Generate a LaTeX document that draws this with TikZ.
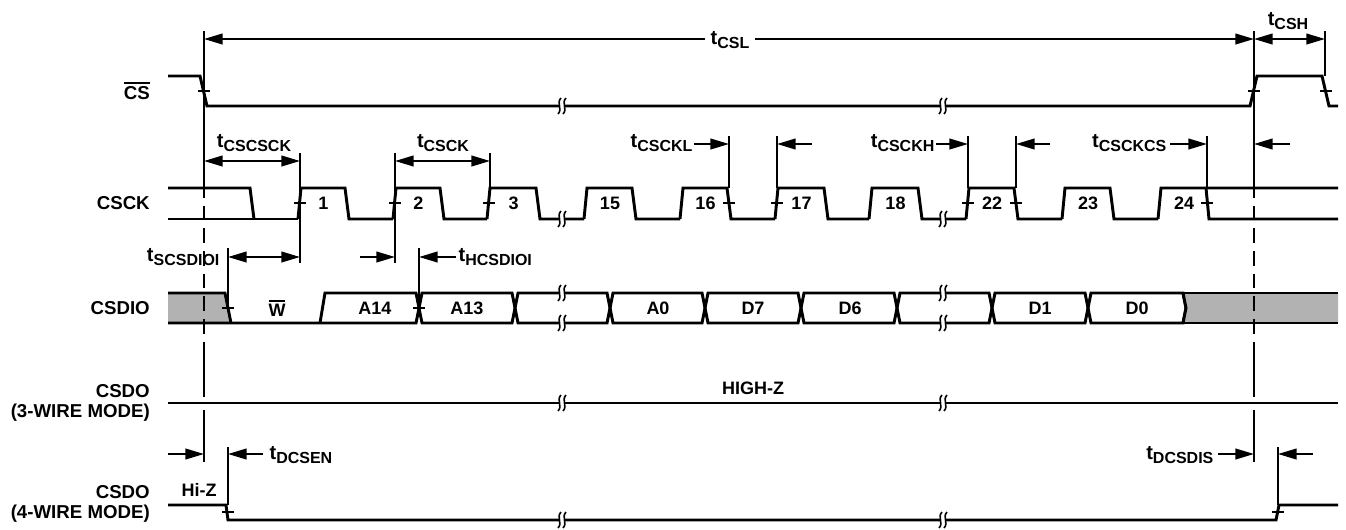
\documentclass[tikz,border=0pt]{standalone}
\usepackage{fontspec}
\setmainfont{Liberation Sans}
\usetikzlibrary{arrows.meta}

% timing symbol: big t with lowered subscript
\newcommand\tm[1]{{\fontsize{15}{15}\selectfont t}\raisebox{-0.5ex}{\fontsize{12}{12}\selectfont #1}}
% text with a heavy bar over it
\newcommand\ovl[1]{\setbox0\hbox{#1}\rlap{\rule[\dimexpr\ht0+1.6pt\relax]{\wd0}{1.4pt}}\box0}
% small crossing mark on an edge
\newcommand\tck[2]{\draw[tickline] (#1-6,#2) -- (#1+6,#2);}
% break mark on a signal line
\newcommand\brk[2]{%
  \fill[white] (#1-3,#2-2.5) rectangle (#1+3,#2+2.5);
  \draw[brkline] (#1-1,#2-8) .. controls (#1-6,#2-3) and (#1+1,#2+3) .. (#1-4,#2+8);
  \draw[brkline] (#1+4,#2-8) .. controls (#1-1,#2-3) and (#1+6,#2+3) .. (#1+1,#2+8);}

\begin{document}
\begin{tikzpicture}[x=0.75pt,y=0.75pt,yscale=-1,xscale=1,
  sig/.style={line width=2.2pt},
  vline/.style={line width=1.1pt},
  vdash/.style={line width=1.1pt, dash pattern=on 11pt off 6pt},
  dim/.style={line width=1.5pt, -{Triangle[length=14pt,width=8pt]}},
  dimboth/.style={line width=1.5pt, {Triangle[length=14pt,width=8pt]}-{Triangle[length=14pt,width=8pt]}},
  tickline/.style={line width=1pt},
  brkline/.style={line width=1.2pt},
  sname/.style={font=\fontsize{14}{14.5}\selectfont\bfseries, inner sep=0pt, align=right, anchor=east},
  tlab/.style={font=\bfseries, inner sep=1pt},
  blab/.style={font=\fontsize{13.5}{14}\selectfont\bfseries, inner sep=0pt}]

\useasboundingbox (0,0) rectangle (1346,529);

% Signal names
\node[sname] (cs) at (150,91) {\ovl{CS}};
\node[sname] (csck) at (150,203) {CSCK};
\node[sname] (csdio) at (150,308) {CSDIO};
\node[sname] (csdo3) at (150,403) {CSDO\\(3-WIRE MODE)};
\node[sname] (csdo4) at (150,504) {CSDO\\(4-WIRE MODE)};

%CS
\draw[sig] (168,76) -- (200,76) -- (207,106) -- (1250,106) -- (1257,76) -- (1322,76) -- (1329,106) -- (1338,106);
\brk{562}{106} \brk{943}{106}
\tck{204}{91} \tck{1254}{91} \tck{1326}{91}

%CSCK
\draw[sig] (168,188) -- (250,188) -- (254,219);
\draw[sig] (168,219) -- (298,219);
\foreach \r/\f/\nx/\n in {298/345/393/1, 393/440/487/2, 487/536/584/3, 584/632/680/15, 680/727/775/16,
    775/824/869/17, 869/918/966/18, 966/1014/1062/22, 1062/1110/1158/23}{
  \draw[sig] (\r,219) -- (\r+3,188) -- (\f,188) -- (\f+4,219) -- (\nx,219);
  \node[blab] (ck\n) at ({(\r+\f)/2+2},203) {\n};
}
\draw[sig] (1158,219) -- (1161,188) -- (1338,188);
\draw[sig] (1206,188) -- (1209,219) -- (1338,219);
\node[blab] (ck24) at (1184,203) {24};
\brk{562}{219} \brk{943}{219}
\foreach \x in {300,395,489,729,777,968,1016,1207} {\tck{\x}{203}}

%CSDIO
\fill[gray!60] (168,293) -- (225,293) -- (231,323) -- (168,323) -- cycle;
\draw[sig] (168,293) -- (225,293) -- (231,323);
\draw[sig] (168,323) -- (416,323) -- (419,308);
\draw[sig] (320,323) -- (325,293) -- (416,293) -- (419,308);
\foreach \a/\b in {419/515, 515/610, 610/705, 705/801, 801/897, 897/992, 992/1088, 1088/1186}
  \draw[sig] (\a,308) -- (\a+3,293) -- (\b-3,293) -- (\b,308) -- (\b-3,323) -- (\a+3,323) -- cycle;
\fill[gray!60] (1183,293) -- (1186,308) -- (1183,323) -- (1338,323) -- (1338,293) -- cycle;
\draw[sig] (1183,293) -- (1338,293) (1183,323) -- (1338,323);
\draw[sig] (1183,293) -- (1186,308) -- (1183,323);
\brk{562}{293} \brk{562}{323} \brk{943}{293} \brk{943}{323}
\tck{228}{308} \tck{419}{308}
\node[blab] (wbit) at (277,308) {\ovl{W}};
\node[blab] (a14) at (375,308) {A14};
\node[blab] (a13) at (467,308) {A13};
\node[blab] (a0) at (658,308) {A0};
\node[blab] (d7) at (753,308) {D7};
\node[blab] (d6) at (850,308) {D6};
\node[blab] (d1) at (1040,308) {D1};
\node[blab] (d0) at (1137,308) {D0};

%CSDO 3-wire
\draw[sig] (168,403) -- (1338,403);
\brk{562}{403} \brk{943}{403}
\node[blab] (highz) at (753,388) {HIGH-Z};

%CSDO 4-wire
\draw[sig] (168,505) -- (226,505) -- (228,520) -- (1276,520) -- (1279,505) -- (1338,505);
\brk{562}{520} \brk{943}{520}
\tck{228}{512} \tck{1278}{512}
\node[blab] (hiz) at (199,490) {Hi-Z};

%Reference lines at CS edges
\foreach \x in {204,1254}{
  \draw[vline] (\x,31) -- (\x,183);
  \draw[vdash] (\x,183) -- (\x,350);
  \draw[vline] (\x,350) -- (\x,397);
  \draw[vline] (\x,410) -- (\x,462);
}
\draw[vline] (1325,31) -- (1325,76);

%Edge markers
\foreach \x in {300,395} {\draw[vline] (\x,153) -- (\x,263);}
\draw[vline] (490,153) -- (490,188);
\foreach \x in {729,777,968,1016,1207} {\draw[vline] (\x,136) -- (\x,188);}
\foreach \x in {228,419} {\draw[vline] (\x,248) -- (\x,308);}
\foreach \x in {228,1278} {\draw[vline] (\x,447) -- (\x,505);}

% Timing arrows and labels
\draw[dimboth] (204,39) -- (1254,39);
\node[tlab,fill=white,inner xsep=4pt] (tcsl) at (730,40) {\tm{CSL}};
\draw[dimboth] (1254,39) -- (1325,39);
\node[tlab] (tcsh) at (1288,21) {\tm{CSH}};

\draw[dimboth] (204,161) -- (300,161);
\node[tlab] (tcscsck) at (254,143) {\tm{CSCSCK}};
\draw[dimboth] (395,161) -- (490,161);
\node[tlab] (tcsck) at (443,143) {\tm{CSCK}};

\node[tlab,anchor=east] (tcsckl) at (694,143) {\tm{CSCKL}};
\draw[dim] (694,144) -- (729,144);
\draw[dim] (812,144) -- (777,144);
\node[tlab,anchor=east] (tcsckh) at (936,143) {\tm{CSCKH}};
\draw[dim] (936,144) -- (968,144);
\draw[dim] (1050,144) -- (1016,144);
\node[tlab,anchor=east] (tcsckcs) at (1168,143) {\tm{CSCKCS}};
\draw[dim] (1170,144) -- (1207,144);
\draw[dim] (1290,144) -- (1254,144);

\node[tlab,anchor=east] (tscsdioi) at (221,257) {\tm{SCSDIOI}};
\draw[dimboth] (228,257) -- (300,257);
\draw[dim] (360,257) -- (395,257);
\draw[dim] (456,257) -- (419,257);
\node[tlab,anchor=west] (thcsdioi) at (457,257) {\tm{HCSDIOI}};

\draw[dim] (168,454) -- (204,454);
\draw[dim] (263,454) -- (228,454);
\node[tlab,anchor=west] (tdcsen) at (268,455) {\tm{DCSEN}};
\node[tlab,anchor=east] (tdcsdis) at (1215,455) {\tm{DCSDIS}};
\draw[dim] (1218,454) -- (1254,454);
\draw[dim] (1313,454) -- (1278,454);

\end{tikzpicture}
\end{document}
